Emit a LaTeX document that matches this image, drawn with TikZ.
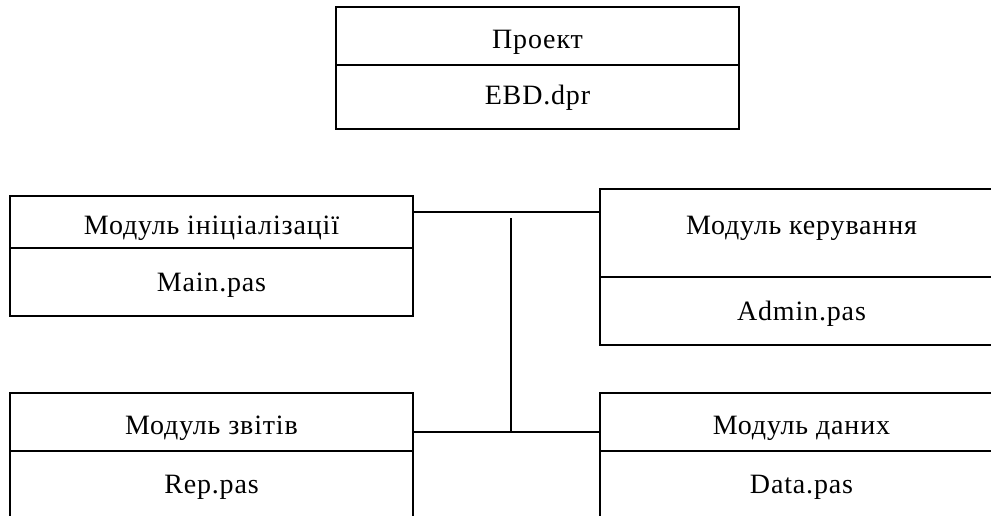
\documentclass[tikz,border=0pt]{standalone}
\usepackage{fontspec}
\setmainfont{Liberation Serif}[LetterSpace=3]
\begin{document}
\begin{tikzpicture}[x=1pt,y=-1pt,
  sec/.style={draw=black, line width=1.6pt, rectangle, inner sep=0pt, outer sep=0pt, anchor=north west, minimum width=403pt},
  lbl/.style={anchor=base, inner sep=0pt, font=\fontsize{28}{32}\selectfont},
  conn/.style={draw=black, line width=1.6pt}]
\useasboundingbox[fill=white] (0,0) rectangle (991,515);
% project box
\node[sec, minimum height=58pt] (projT) at (336,7) {};
\node[sec, minimum height=64pt] (projB) at (336,65) {};
\node[lbl] (projTl) at (537.5,48) {Проект};
\node[lbl] (projBl) at (537.5,104) {EBD.dpr};
% init module
\node[sec, minimum height=52pt] (initT) at (10,196) {};
\node[sec, minimum height=68pt] (initB) at (10,248) {};
\node[lbl] (initTl) at (211.5,234) {Модуль ініціалізації};
\node[lbl] (initBl) at (211.5,291) {Main.pas};
% control module
\node[sec, minimum height=88pt] (ctrlT) at (600,189) {};
\node[sec, minimum height=68pt] (ctrlB) at (600,277) {};
\node[lbl] (ctrlTl) at (801.5,234) {Модуль керування};
\node[lbl] (ctrlBl) at (801.5,320) {Admin.pas};
% reports module
\node[sec, minimum height=58pt] (repT) at (10,393) {};
\node[sec, minimum height=80pt] (repB) at (10,451) {};
\node[lbl] (repTl) at (211.5,434) {Модуль звітів};
\node[lbl] (repBl) at (211.5,493) {Rep.pas};
% data module
\node[sec, minimum height=58pt] (dataT) at (600,393) {};
\node[sec, minimum height=80pt] (dataB) at (600,451) {};
\node[lbl] (dataTl) at (801.5,434) {Модуль даних};
\node[lbl] (dataBl) at (801.5,493) {Data.pas};
% connectors
\coordinate (j1) at (511,212);
\coordinate (vtop) at (511,218);
\coordinate (j2) at (511,432);
\draw[conn] (initT.east |- j1) -- (ctrlT.west |- j1);
\draw[conn] (vtop) -- (j2);
\draw[conn] (repT.east |- j2) -- (dataT.west |- j2);
\end{tikzpicture}
\end{document}
